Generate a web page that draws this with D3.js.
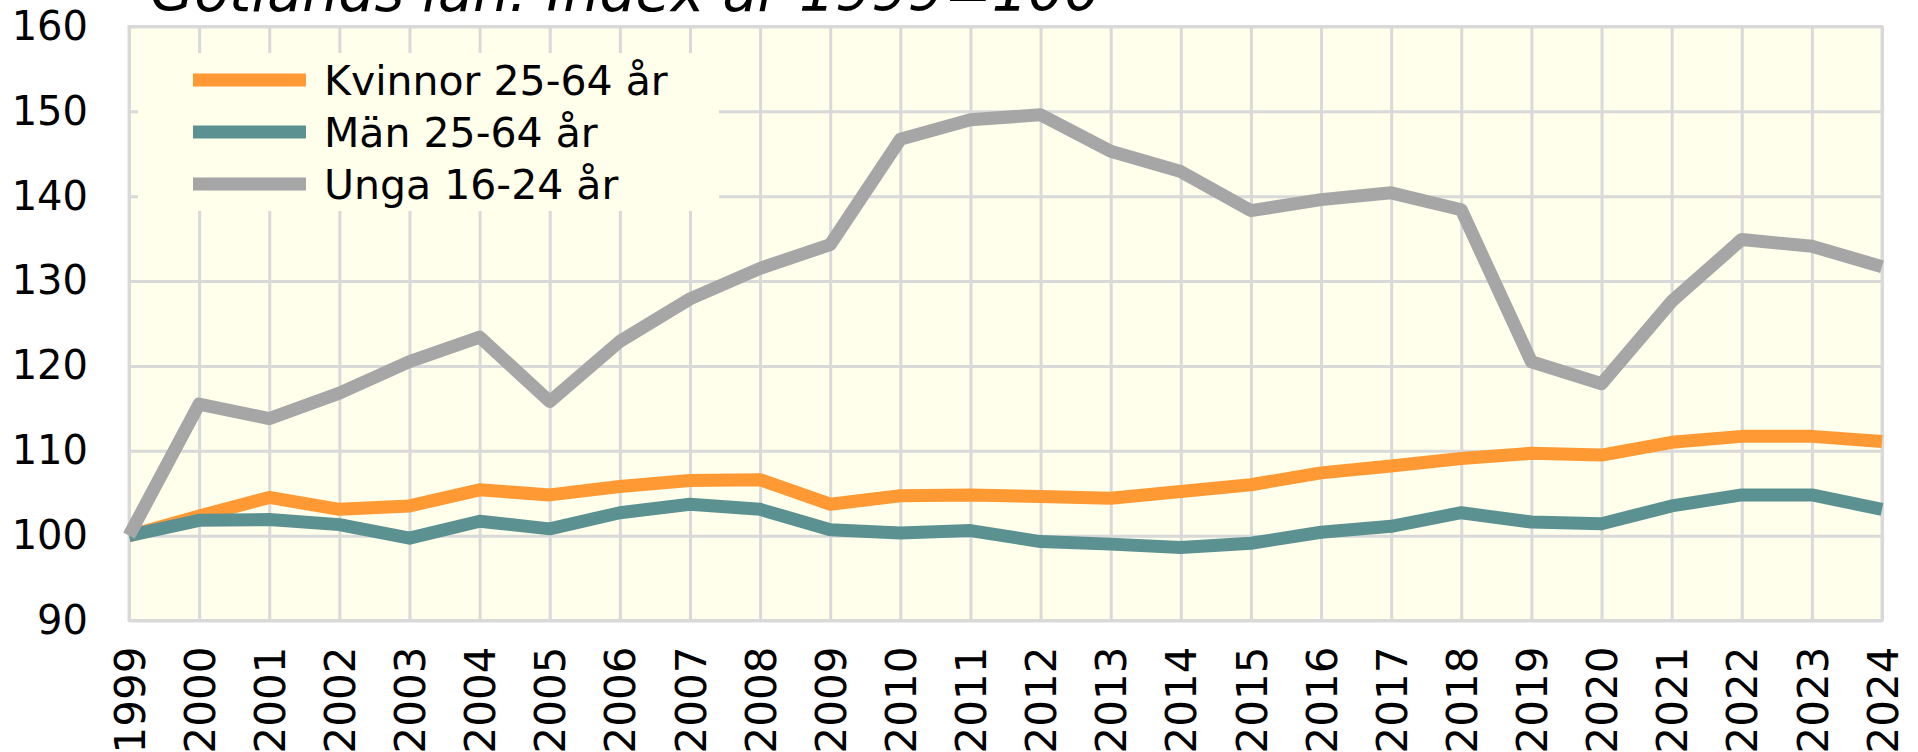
<!DOCTYPE html>
<html>
<head>
<meta charset="utf-8">
<script src="https://cdn.jsdelivr.net/npm/d3@7"></script>
<style>
  html, body { margin: 0; padding: 0; background: #fff; }
  svg { display: block; }
</style>
</head>
<body>
<div id="chart"></div>
<script>
const years = [1999, 2000, 2001, 2002, 2003, 2004, 2005, 2006, 2007, 2008, 2009, 2010, 2011,
               2012, 2013, 2014, 2015, 2016, 2017, 2018, 2019, 2020, 2021, 2022, 2023, 2024];

const kvinnor = [100, 102.3, 104.5, 103.1, 103.5, 105.4, 104.8, 105.8, 106.5, 106.6, 103.7, 104.7, 104.8,
                 104.6, 104.4, 105.2, 106.0, 107.4, 108.2, 109.1, 109.7, 109.5, 111.0, 111.7, 111.7, 111.1];
const man = [100, 101.8, 101.9, 101.3, 99.7, 101.7, 100.8, 102.7, 103.7, 103.1, 100.7, 100.3, 100.6,
             99.3, 99.0, 98.6, 99.1, 100.4, 101.1, 102.7, 101.6, 101.4, 103.5, 104.8, 104.8, 103.1];
const unga = [100, 115.5, 113.8, 116.8, 120.5, 123.4, 115.8, 122.9, 127.9, 131.5, 134.3, 146.7, 149.0,
              149.6, 145.3, 142.9, 138.3, 139.6, 140.4, 138.4, 120.5, 117.9, 127.6, 134.9, 134.1, 131.7];

const seriesNames = ["Kvinnor 25-64 år", "Män 25-64 år", "Unga 16-24 år"];
const seriesColors = ["#ff9933", "#5b9191", "#a6a6a6"];
const yTicks = [90, 100, 110, 120, 130, 140, 150, 160];
const title = "Gotlands län: Index år 1999=100";

const width = 1918, height = 752;
const plot = { left: 129, right: 1882, top: 26.5, bottom: 620.5 };
const font = "'DejaVu Sans', Verdana, sans-serif";
const colors = { bg: "#ffffeb", grid: "#d9d9d9", text: "#000" };

const svg = d3.select("#chart").append("svg")
  .attr("width", width)
  .attr("height", height)
  .style("font-family", font);

svg.append("rect").attr("width", width).attr("height", height).attr("fill", "#fff");

const x = d3.scalePoint().domain(years).range([plot.left, plot.right]);
const y = d3.scaleLinear().domain([90, 160]).range([plot.bottom, plot.top]);

// plot area
svg.append("rect")
  .attr("x", plot.left).attr("y", plot.top)
  .attr("width", plot.right - plot.left).attr("height", plot.bottom - plot.top)
  .attr("fill", colors.bg);

// y axis + horizontal grid
const yAxis = svg.append("g")
  .attr("transform", `translate(${plot.left},0)`)
  .call(d3.axisLeft(y).tickValues(yTicks).tickSize(-(plot.right - plot.left)).tickPadding(41));
yAxis.select(".domain").remove();
yAxis.selectAll("line").attr("stroke", colors.grid).attr("stroke-width", 3);
yAxis.selectAll("text")
  .attr("font-size", 40).attr("font-family", font).attr("fill", colors.text);

// x axis + vertical grid
const xAxis = svg.append("g")
  .attr("transform", `translate(0,${plot.bottom})`)
  .call(d3.axisBottom(x).tickSize(-(plot.bottom - plot.top)));
xAxis.select(".domain").remove();
xAxis.selectAll("line").attr("stroke", colors.grid).attr("stroke-width", 3);
xAxis.selectAll("text")
  .attr("font-size", 42).attr("font-family", font).attr("fill", colors.text)
  .attr("transform", "rotate(-90)")
  .attr("text-anchor", "end")
  .attr("x", -26).attr("y", 0).attr("dy", "0.36em");

// plot border
svg.append("rect")
  .attr("x", plot.left).attr("y", plot.top)
  .attr("width", plot.right - plot.left).attr("height", plot.bottom - plot.top)
  .attr("fill", "none").attr("stroke", colors.grid).attr("stroke-width", 3);

// legend box (covers the grid)
const legend = svg.append("g");
legend.append("rect")
  .attr("x", 138).attr("y", 53).attr("width", 581).attr("height", 158)
  .attr("fill", colors.bg);

const legendRows = legend.selectAll("g.row")
  .data(seriesNames)
  .join("g")
    .attr("class", "row")
    .attr("transform", (d, i) => `translate(0,${80 + i * 52})`);
legendRows.append("line")
  .attr("x1", 193).attr("x2", 306)
  .attr("stroke", (d, i) => seriesColors[i])
  .attr("stroke-width", 13);
legendRows.append("text")
  .attr("x", 324).attr("y", 0).attr("dy", "0.36em")
  .attr("font-size", 41).attr("fill", colors.text)
  .text(d => d);

// lines
const seriesValues = [kvinnor, man, unga];
const line = d3.line()
  .x((d, i) => x(years[i]))
  .y(d => y(d));

svg.append("g")
  .selectAll("path")
  .data(seriesValues)
  .join("path")
    .attr("d", d => line(d))
    .attr("fill", "none")
    .attr("stroke", (d, i) => seriesColors[i])
    .attr("stroke-width", 13)
    .attr("stroke-linejoin", "round")
    .attr("stroke-linecap", "butt");

// title (cut off at the top, like the original)
svg.append("text")
  .attr("x", 150).attr("y", 11)
  .attr("font-size", 57)
  .attr("font-style", "italic")
  .attr("fill", colors.text)
  .text(title);
</script>
</body>
</html>
